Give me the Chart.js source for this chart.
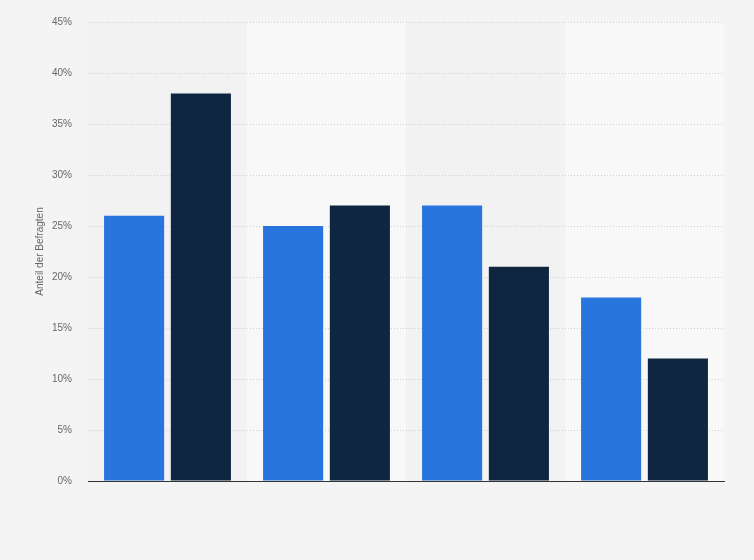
<!DOCTYPE html>
<html><head><meta charset="utf-8">
<script src="https://cdn.jsdelivr.net/npm/chart.js@4/dist/chart.umd.min.js"></script>
<style>html,body{margin:0;padding:0;background:#f4f4f4;}#wrap{width:754px;height:560px;}</style>
</head><body><div id="wrap"><canvas id="c" width="754" height="560"></canvas></div>
<script>
const categories = ['Kategorie 1', 'Kategorie 2', 'Kategorie 3', 'Kategorie 4'];
const series1 = [26, 25, 27, 18];
const series2 = [38, 27, 21, 12];
const yTicks = [0, 5, 10, 15, 20, 25, 30, 35, 40, 45];

const bands = {
  id: 'bands',
  beforeDraw(chart) {
    const {ctx, chartArea, scales} = chart;
    const x = scales.x;
    const n = categories.length;
    ctx.save();
    for (let i = 0; i < n; i++) {
      const c = x.getPixelForValue(i);
      const w = (x.right - x.left) / n;
      ctx.fillStyle = i % 2 === 0 ? '#f2f2f2' : '#f8f8f8';
      ctx.fillRect(c - w / 2, chartArea.top, w, chartArea.bottom - chartArea.top);
    }
    ctx.restore();
  }
};

new Chart(document.getElementById('c'), {
  type: 'bar',
  data: {
    labels: categories,
    datasets: [
      {label: 'Serie 1', data: series1, backgroundColor: '#2876dd', borderWidth: 0},
      {label: 'Serie 2', data: series2, backgroundColor: '#0f2640', borderWidth: 0}
    ]
  },
  plugins: [bands],
  options: {
    responsive: false,
    animation: false,
    devicePixelRatio: 1,
    layout: {padding: {left: 34, right: 30, top: 20, bottom: 79}},
    categoryPercentage: 0.84,
    barPercentage: 0.9,
    plugins: {legend: {display: false}, tooltip: {enabled: false}},
    scales: {
      x: {
        ticks: {display: false},
        grid: {display: false, drawTicks: false},
        border: {display: true, color: '#333333', width: 1}
      },
      y: {
        min: 0, max: 45,
        afterBuildTicks(scale) { scale.ticks = yTicks.map(v => ({value: v})); },
        afterFit(scale) { scale.width = 54; },
        ticks: {
          padding: 16,
          color: '#666666',
          font: {family: 'Liberation Sans, Arial, sans-serif', size: 10},
          callback: v => v + '%'
        },
        grid: {color: '#d0d0d0', drawTicks: false, lineWidth: 1},
        border: {display: false, dash: [1, 2]},
        title: {
          display: true,
          text: 'Anteil der Befragten',
          color: '#666666',
          font: {family: 'Liberation Sans, Arial, sans-serif', size: 10},
          padding: {top: 0, bottom: 0}
        }
      }
    }
  }
});
</script></body></html>
